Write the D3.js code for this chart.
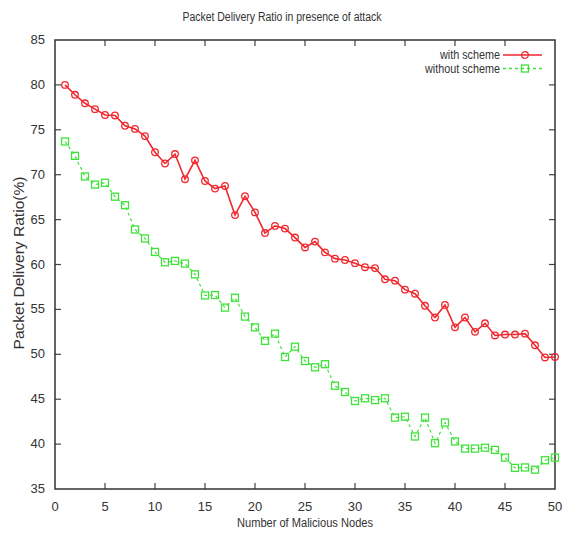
<!DOCTYPE html>
<html>
<head>
<meta charset="utf-8">
<script src="https://cdn.jsdelivr.net/npm/d3@7"></script>
<style>
body { margin: 0; background: #fff; }
text { font-family: "Liberation Sans Narrow", "Liberation Sans", Arial, sans-serif; fill: #333; }
</style>
</head>
<body>
<script>
var nodes = d3.range(1, 51);
var withScheme = [80.0, 78.9, 77.95, 77.3, 76.65, 76.6, 75.45, 75.1, 74.3, 72.5,
    71.25, 72.3, 69.5, 71.6, 69.3, 68.45, 68.75, 65.5, 67.6, 65.8,
    63.5, 64.3, 64.0, 63.0, 61.9, 62.55, 61.35, 60.65, 60.5, 60.15,
    59.7, 59.6, 58.35, 58.2, 57.2, 56.75, 55.4, 54.1, 55.5, 53.0,
    54.1, 52.5, 53.45, 52.1, 52.2, 52.2, 52.3, 51.0, 49.65, 49.7];
var withoutScheme = [73.7, 72.1, 69.8, 68.9, 69.1, 67.55, 66.6, 63.9, 62.9, 61.4,
    60.25, 60.4, 60.1, 58.9, 56.55, 56.6, 55.2, 56.3, 54.2, 53.0,
    51.5, 52.3, 49.7, 50.85, 49.25, 48.55, 48.9, 46.5, 45.8, 44.8,
    45.1, 44.9, 45.1, 42.95, 43.05, 40.85, 42.95, 40.1, 42.4, 40.3,
    39.5, 39.5, 39.6, 39.35, 38.5, 37.35, 37.4, 37.15, 38.2, 38.5];
var xTicks = [0, 5, 10, 15, 20, 25, 30, 35, 40, 45, 50];
var yTicks = [35, 40, 45, 50, 55, 60, 65, 70, 75, 80, 85];

var width = 563, height = 535;
var margin = {left: 55, right: 8, top: 40, bottom: 46};

var svg = d3.select("body").append("svg")
    .attr("width", width)
    .attr("height", height);

var x = d3.scaleLinear().domain([0, 50]).range([margin.left, width - margin.right]);
var y = d3.scaleLinear().domain([35, 85]).range([height - margin.bottom, margin.top]);

// ticks on all four sides, pointing inward (gnuplot style)
var tl = 6;
svg.append("g").selectAll("line").data(xTicks.slice(1, -1)).enter().append("line")
    .attr("x1", d => x(d)).attr("x2", d => x(d))
    .attr("y1", y(35)).attr("y2", y(35) - tl)
    .style("stroke", "#444").style("stroke-width", 1.2);
svg.append("g").selectAll("line").data(xTicks.slice(1, -1)).enter().append("line")
    .attr("x1", d => x(d)).attr("x2", d => x(d))
    .attr("y1", y(85)).attr("y2", y(85) + tl)
    .style("stroke", "#444").style("stroke-width", 1.2);
svg.append("g").selectAll("line").data(yTicks.slice(1, -1)).enter().append("line")
    .attr("x1", x(0)).attr("x2", x(0) + tl)
    .attr("y1", d => y(d)).attr("y2", d => y(d))
    .style("stroke", "#444").style("stroke-width", 1.2);
svg.append("g").selectAll("line").data(yTicks.slice(1, -1)).enter().append("line")
    .attr("x1", x(50)).attr("x2", x(50) - tl)
    .attr("y1", d => y(d)).attr("y2", d => y(d))
    .style("stroke", "#444").style("stroke-width", 1.2);

svg.append("rect")
    .attr("x", x(0)).attr("y", y(85))
    .attr("width", x(50) - x(0)).attr("height", y(35) - y(85))
    .style("fill", "none").style("stroke", "#333").style("stroke-width", 1.5);

svg.append("g").selectAll("text").data(xTicks).enter().append("text")
    .attr("x", d => x(d)).attr("y", y(35) + 22)
    .attr("text-anchor", "middle")
    .style("font-size", "13px")
    .text(d => d);
svg.append("g").selectAll("text").data(yTicks).enter().append("text")
    .attr("x", x(0) - 10).attr("y", d => y(d) + 4)
    .attr("text-anchor", "end")
    .style("font-size", "13px")
    .text(d => d);

svg.append("text")
    .attr("x", 282).attr("y", 21)
    .attr("text-anchor", "middle")
    .style("font-size", "12px")
    .attr("textLength", 199).attr("lengthAdjust", "spacingAndGlyphs")
    .text("Packet Delivery Ratio in presence of attack");
svg.append("text")
    .attr("x", 305).attr("y", 527)
    .attr("text-anchor", "middle")
    .style("font-size", "12px")
    .attr("textLength", 136).attr("lengthAdjust", "spacingAndGlyphs")
    .text("Number of Malicious Nodes");
svg.append("text")
    .attr("transform", "translate(24," + 263 + ") rotate(-90)")
    .attr("text-anchor", "middle")
    .style("font-size", "14px")
    .attr("textLength", 173).attr("lengthAdjust", "spacingAndGlyphs")
    .text("Packet Delivery Ratio(%)");

var red = "#f0282e", green = "#3ee23a";

var line = d3.line().x((d, i) => x(nodes[i])).y(d => y(d));

svg.append("path").datum(withScheme)
    .attr("d", line)
    .style("fill", "none").style("stroke", red).style("stroke-width", 1.6);
svg.append("g").selectAll("circle").data(withScheme).enter().append("circle")
    .attr("cx", (d, i) => x(nodes[i])).attr("cy", d => y(d))
    .attr("r", 3.3)
    .style("fill", "none").style("stroke", red).style("stroke-width", 1.3);

svg.append("path").datum(withoutScheme)
    .attr("d", line)
    .style("fill", "none").style("stroke", green).style("stroke-width", 1.2)
    .style("stroke-dasharray", "3,3");
svg.append("g").selectAll("rect").data(withoutScheme).enter().append("rect")
    .attr("x", (d, i) => x(nodes[i]) - 3.5).attr("y", d => y(d) - 3.5)
    .attr("width", 7).attr("height", 7)
    .style("fill", "none").style("stroke", green).style("stroke-width", 1.3);

// legend
var legend = [
    {name: "with scheme", color: red, dash: null, marker: "circle", len: 60},
    {name: "without scheme", color: green, dash: "3,3", marker: "square", len: 75}
];
var lg = svg.append("g").selectAll("g").data(legend).enter().append("g")
    .attr("transform", (d, i) => "translate(0," + (55 + i * 13.5) + ")");
lg.append("text")
    .attr("x", 500).attr("y", 4)
    .attr("text-anchor", "end")
    .style("font-size", "12px")
    .attr("textLength", d => d.len).attr("lengthAdjust", "spacingAndGlyphs")
    .text(d => d.name);
lg.append("line")
    .attr("x1", 503).attr("x2", 542)
    .style("stroke", d => d.color).style("stroke-width", 1.5)
    .style("stroke-dasharray", d => d.dash);
lg.filter(d => d.marker == "circle").append("circle")
    .attr("cx", 525).attr("r", 3.3)
    .style("fill", "none").style("stroke", d => d.color).style("stroke-width", 1.3);
lg.filter(d => d.marker == "square").append("rect")
    .attr("x", 521.5).attr("y", -3.5).attr("width", 7).attr("height", 7)
    .style("fill", "none").style("stroke", d => d.color).style("stroke-width", 1.3);
</script>
</body>
</html>
